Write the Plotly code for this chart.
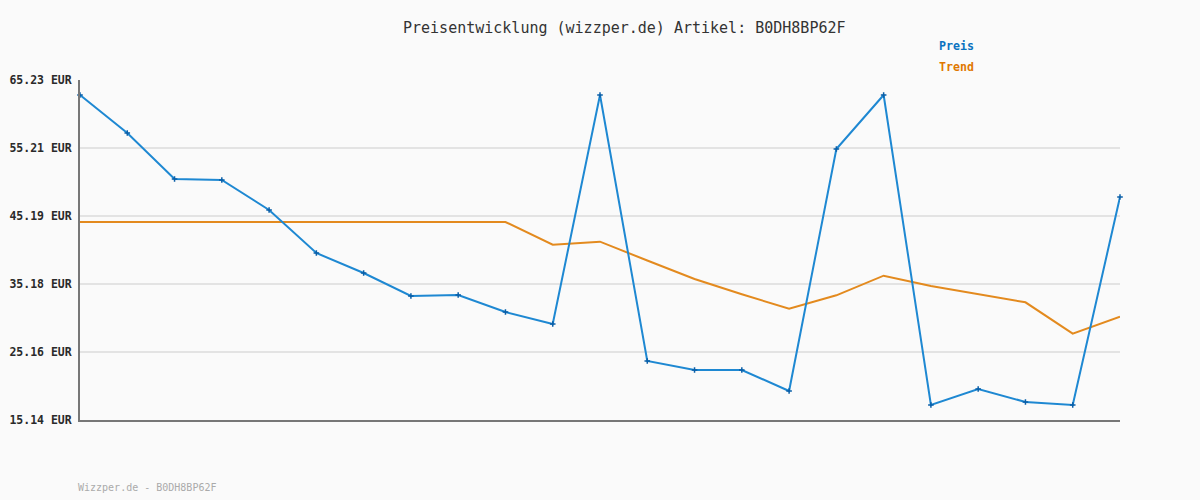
import plotly.graph_objects as go

x_idx = list(range(23))
preis = [63.02, 57.42, 50.65, 50.50, 46.08, 39.74, 36.80, 33.41, 33.56, 31.05, 29.28,
         63.02, 23.83, 22.51, 22.51, 19.41, 55.06, 63.02, 17.35, 19.71, 17.79, 17.35, 47.99]
trend = [44.31, 44.31, 44.31, 44.31, 44.31, 44.31, 44.31, 44.31, 44.31, 44.31, 40.97,
         41.41, 38.64, 35.91, 33.66, 31.54, 33.51, 36.40, 34.88, 33.66, 32.48, 27.86, 30.36]
tick_vals = [15.14, 25.16, 35.18, 45.19, 55.21, 65.23]
tick_text = [f"<b>{v:.2f} EUR</b>" for v in tick_vals]

fig = go.Figure()
fig.add_trace(go.Scatter(x=x_idx, y=trend, mode="lines", name="Trend",
                         line=dict(color="#e38a1e", width=2), cliponaxis=False))
fig.add_trace(go.Scatter(x=x_idx, y=preis, mode="lines+markers", name="Preis",
                         line=dict(color="#1e88d2", width=2),
                         marker=dict(symbol="cross-thin", size=4, color="#0a5fa8",
                                     line=dict(color="#0a5fa8", width=1.5)),
                         cliponaxis=False))

fig.update_layout(
    width=1200, height=500,
    paper_bgcolor="#fafafa", plot_bgcolor="#fafafa",
    margin=dict(l=80, r=80, t=80, b=80, autoexpand=False),
    showlegend=False,
    font=dict(family="DejaVu Sans Mono", color="#333333"),
    xaxis=dict(range=[0, 22], showgrid=False, zeroline=False, showticklabels=False,
               ticks="", showline=True, linecolor="#777777", linewidth=2, fixedrange=True,
               automargin=False),
    yaxis=dict(range=[15.14, 65.23], tickvals=tick_vals, ticktext=tick_text,
               showgrid=True, gridcolor="#e3e3e3", gridwidth=2, zeroline=False,
               showline=True, linecolor="#777777", linewidth=2, ticks="",
               tickfont=dict(size=11.5, color="#2a2a2a", family="DejaVu Sans Mono"),
               ticklabelstandoff=4, automargin=False),
    annotations=[
        dict(text="Preisentwicklung (wizzper.de) Artikel: B0DH8BP62F", x=624, y=28,
             showarrow=False, xanchor="center", yanchor="middle",
             font=dict(size=15, color="#333333", family="DejaVu Sans Mono")),
        dict(text="<b>Preis</b>", x=937, y=46, showarrow=False,
             font=dict(size=11.6, color="#0b72c0", family="DejaVu Sans Mono"),
             xanchor="left", yanchor="middle"),
        dict(text="<b>Trend</b>", x=937, y=67, showarrow=False,
             font=dict(size=11.6, color="#e07800", family="DejaVu Sans Mono"),
             xanchor="left", yanchor="middle"),
        dict(text="Wizzper.de - B0DH8BP62F", x=76, y=487, showarrow=False,
             font=dict(size=10, color="#aaaaaa", family="DejaVu Sans Mono"),
             xanchor="left", yanchor="middle"),
    ],
)

# convert pixel positions of annotations to paper coords
pw, ph = 1200 - 160, 500 - 160
for a in fig.layout.annotations:
    px, py = a.x, a.y
    a.x = (px - 80) / pw
    a.y = 1 - (py - 80) / ph
    a.xref = "paper"
    a.yref = "paper"

fig.write_html("out.html", config={"displayModeBar": False},
               post_script="document.body.style.margin='0';document.body.style.overflow='hidden';")
